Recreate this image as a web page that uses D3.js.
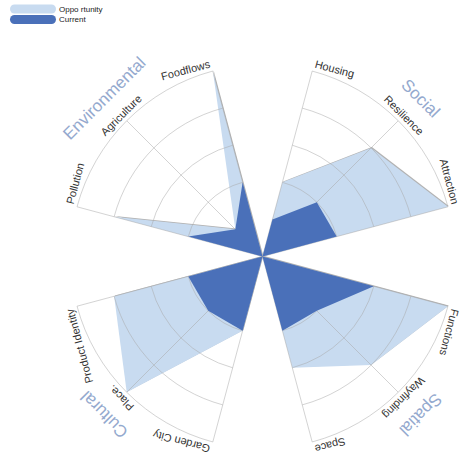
<!DOCTYPE html>
<html>
<head>
<meta charset="utf-8">
<script src="https://cdn.jsdelivr.net/npm/d3@7"></script>
<style>
  html, body { margin: 0; padding: 0; background: #fff; }
  svg { display: block; font-family: "Liberation Sans", Arial, sans-serif; }
</style>
</head>
<body>
<svg id="chart" width="467" height="462"></svg>
<script>
// Four themed sectors, three spokes each
const categories = ["Environmental", "Social", "Spatial", "Cultural"];
const axisLabels = [
  "Pollution", "Agriculture", "Foodflows",
  "Housing", "Resilience", "Attraction",
  "Functions", "Wayfinding", "Space",
  "Garden City", "Place.", "Product Identity"
];
const opportunity = [0.8, 0.2, 1.0,  0.4, 0.8, 1.0,  1.0, 0.8, 0.6,  0.4, 1.0, 0.8];
const current     = [0.4, 0.2, 0.4,  0.2, 0.4, 0.4,  0.6, 0.4, 0.4,  0.4, 0.4, 0.4];
const gridLevels  = [0.2, 0.4, 0.6, 0.8, 1.0];
const legendLabels = ["Oppo rtunity", "Current"];

const colors = { opportunity: "#c8dbf0", current: "#4a70b9", title: "#94a9ce", label: "#333" };

const svg = d3.select("#chart");
const cx = 262.5, cy = 256.5, R = 192;

// value -> radius
const r = d3.scaleLinear().domain([0, 1]).range([0, R]);
// spoke index -> angle (radians, clockwise from 12 o'clock)
const deg = Math.PI / 180;
const angleOf = i => (-75 + 90 * Math.floor(i / 3) + 30 * (i % 3)) * deg;

const g = svg.append("g").attr("transform", `translate(${cx},${cy})`);

const radial = d3.lineRadial()
  .angle(d => d[0]).radius(d => d[1])
  .curve(d3.curveLinearClosed);

function sectorPoints(values, q) {
  const pts = [[0, 0]];
  for (let k = 0; k < 3; k++) {
    const i = q * 3 + k;
    pts.push([angleOf(i), r(values[i])]);
  }
  return pts;
}

// soft edge under the opportunity areas
g.append("g").attr("transform", "translate(0.8,-0.8)")
  .selectAll("path").data(categories).join("path")
  .attr("d", (c, q) => radial(sectorPoints(opportunity, q)))
  .attr("fill", "#666").attr("opacity", 0.5);

g.append("g").selectAll("path").data(categories).join("path")
  .attr("d", (c, q) => radial(sectorPoints(opportunity, q)))
  .attr("fill", colors.opportunity);

// grid: arcs per sector and spokes
const grid = g.append("g").attr("fill", "none").attr("stroke", "#a8a8a8")
  .attr("stroke-opacity", 0.5).attr("stroke-width", 1);

categories.forEach((c, q) => {
  const a0 = angleOf(q * 3), a1 = angleOf(q * 3 + 2);
  gridLevels.forEach(v => {
    const p = d3.path();
    p.arc(0, 0, r(v), a0 - Math.PI / 2, a1 - Math.PI / 2);
    grid.append("path").attr("d", p.toString());
  });
});

grid.selectAll("line").data(axisLabels).join("line")
  .attr("x1", 0).attr("y1", 0)
  .attr("x2", (d, i) => r(1) * Math.sin(angleOf(i)))
  .attr("y2", (d, i) => -r(1) * Math.cos(angleOf(i)));

g.append("g").selectAll("path").data(categories).join("path")
  .attr("d", (c, q) => radial(sectorPoints(current, q)))
  .attr("fill", colors.current);

// spoke labels, kept inside each sector's span
const anchors = ["start", "middle", "end"];
g.append("g").selectAll("text").data(axisLabels).join("text")
  .attr("transform", (d, i) => `rotate(${angleOf(i) / deg}) translate(0,${-(R + 4)})`)
  .attr("x", (d, i) => (i % 3 === 0 ? 1 : i % 3 === 2 ? -1 : 0))
  .attr("text-anchor", (d, i) => anchors[i % 3])
  .attr("font-size", 11)
  .attr("fill", colors.label)
  .text(d => d);

// sector titles
g.append("g").selectAll("text").data(categories).join("text")
  .attr("transform", (d, q) => `rotate(${-45 + 90 * q}) translate(0,${-(R + 26)})`)
  .attr("text-anchor", "middle")
  .attr("font-size", 17)
  .attr("fill", colors.title)
  .text(d => d);

// legend
const legend = svg.append("g");
const legendColors = [colors.opportunity, colors.current];
legend.selectAll("rect").data(legendLabels).join("rect")
  .attr("x", 10).attr("y", (d, i) => 4.5 + i * 10.5)
  .attr("width", 46).attr("height", 9).attr("rx", 4.5)
  .attr("fill", (d, i) => legendColors[i]);
legend.selectAll("text").data(legendLabels).join("text")
  .attr("x", 59).attr("y", (d, i) => 11.8 + i * 10.5)
  .attr("font-size", 8).attr("fill", "#222")
  .text(d => d);
</script>
</body>
</html>
